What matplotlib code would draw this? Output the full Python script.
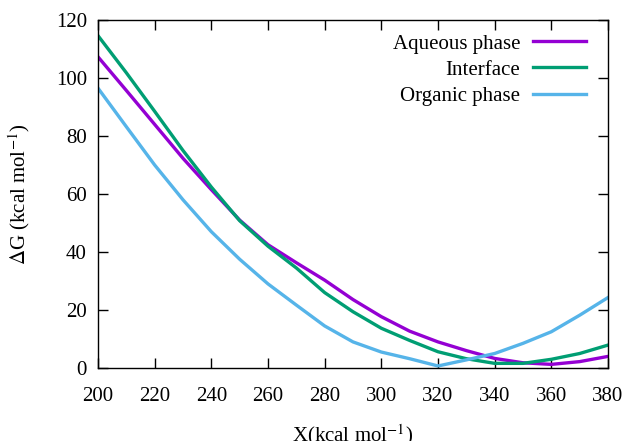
import matplotlib
matplotlib.use("Agg")
import matplotlib.pyplot as plt

plt.rcParams['font.family'] = ['Liberation Serif', 'DejaVu Serif']
plt.rcParams['mathtext.fontset'] = 'stix'

# Reaction coordinate
x_vals = [200, 210, 220, 230, 240, 250, 260, 270, 280, 290,
          300, 310, 320, 330, 340, 350, 360, 370, 380]

# Free energy profiles (kcal/mol)
aqueous = [107.3, 95.7, 84.0, 72.3, 61.5, 51.0, 42.5, 36.3, 30.3, 23.6,
           17.7, 12.7, 9.0, 6.0, 3.3, 1.8, 1.25, 2.2, 4.0]
interface = [114.6, 101.8, 88.5, 75.0, 62.4, 50.8, 42.0, 34.5, 26.0, 19.4,
             13.7, 9.5, 5.6, 3.2, 1.6, 1.6, 3.0, 5.0, 7.9]
organic = [96.5, 83.2, 70.0, 58.0, 47.0, 37.5, 29.0, 21.7, 14.5, 9.0,
           5.5, 3.2, 0.7, 2.8, 5.0, 8.5, 12.5, 18.2, 24.3]

labels = ["Aqueous phase", "Interface", "Organic phase"]
colors = ["#9400D3", "#009E73", "#56B4E9"]

fig = plt.figure(figsize=(6.28, 4.41), dpi=100)
ax = fig.add_axes([98 / 628, 73 / 441, 510 / 628, 348 / 441])

for ys, lab, c in zip([aqueous, interface, organic], labels, colors):
    ax.plot(x_vals, ys, color=c, lw=2.4, label=lab)

ax.set_xlim(200, 380)
ax.set_ylim(0, 120)
ax.set_xticks(range(200, 381, 20))
ax.set_yticks(range(0, 121, 20))
ax.tick_params(direction='in', length=7, width=1, top=True, right=True,
               labelsize=15)
ax.tick_params(axis='x', pad=14)
ax.tick_params(axis='y', pad=8)
for s in ax.spines.values():
    s.set_linewidth(1)

ax.set_ylabel(r"$\Delta$G (kcal mol$^{-1}$)", fontsize=15)
ax.yaxis.set_label_coords(-0.129, 0.5)
ax.set_xlabel(r"X(kcal mol$^{-1}$)", fontsize=15)
ax.xaxis.set_label_coords(0.5, -0.155)

ax.legend(loc='upper right', bbox_to_anchor=(0.957, 0.96), frameon=False,
          markerfirst=False, fontsize=15, handlelength=2.55,
          handletextpad=0.6, labelspacing=0.32, borderpad=0,
          borderaxespad=0)

fig.savefig("out.png", dpi=100)
